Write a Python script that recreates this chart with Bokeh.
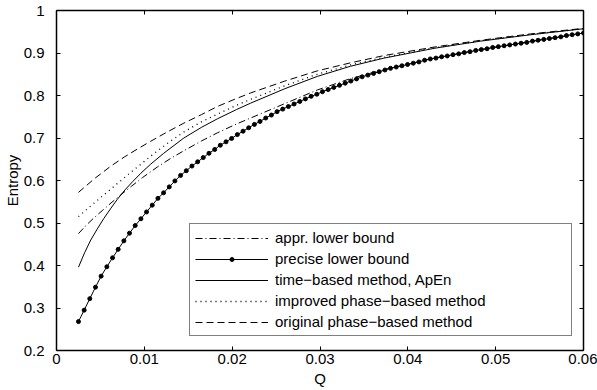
from bokeh.plotting import figure
from bokeh.models import LinearAxis, FixedTicker, Legend, LegendItem, Range1d
from bokeh.embed import file_html
from bokeh.resources import INLINE

# ---------------- data ----------------
q_precise = [0.00250, 0.00315, 0.00379, 0.00444, 0.00508, 0.00573, 0.00638, 0.00702, 0.00767, 0.00831,
             0.00896, 0.00961, 0.01025, 0.01090, 0.01155, 0.01219, 0.01284, 0.01348, 0.01413, 0.01478,
             0.01542, 0.01607, 0.01671, 0.01736, 0.01801, 0.01865, 0.01930, 0.01994, 0.02059, 0.02124,
             0.02188, 0.02253, 0.02317, 0.02382, 0.02447, 0.02511, 0.02576, 0.02640, 0.02705, 0.02770,
             0.02834, 0.02899, 0.02964, 0.03028, 0.03093, 0.03157, 0.03222, 0.03287, 0.03351, 0.03416,
             0.03480, 0.03545, 0.03610, 0.03674, 0.03739, 0.03803, 0.03868, 0.03933, 0.03997, 0.04062,
             0.04126, 0.04191, 0.04256, 0.04320, 0.04385, 0.04449, 0.04514, 0.04579, 0.04643, 0.04708,
             0.04773, 0.04837, 0.04902, 0.04966, 0.05031, 0.05096, 0.05160, 0.05225, 0.05289, 0.05354,
             0.05419, 0.05483, 0.05548, 0.05612, 0.05677, 0.05742, 0.05806, 0.05871, 0.05935, 0.06000]
e_precise = [0.268, 0.295, 0.322, 0.349, 0.375, 0.397, 0.418, 0.438, 0.458, 0.476,
             0.494, 0.510, 0.526, 0.542, 0.558, 0.571, 0.585, 0.599, 0.612, 0.623,
             0.634, 0.644, 0.654, 0.664, 0.673, 0.683, 0.691, 0.699, 0.708, 0.716,
             0.724, 0.732, 0.739, 0.747, 0.754, 0.762, 0.768, 0.774, 0.780, 0.786,
             0.792, 0.798, 0.803, 0.809, 0.814, 0.819, 0.824, 0.829, 0.834, 0.839,
             0.844, 0.848, 0.852, 0.856, 0.860, 0.864, 0.867, 0.870, 0.873, 0.876,
             0.879, 0.883, 0.886, 0.888, 0.891, 0.893, 0.896, 0.898, 0.901, 0.903,
             0.906, 0.908, 0.910, 0.913, 0.915, 0.917, 0.919, 0.921, 0.923, 0.925,
             0.928, 0.930, 0.932, 0.934, 0.936, 0.938, 0.941, 0.943, 0.945, 0.947]

q_appr = [0.0025, 0.0033, 0.0042, 0.0052, 0.0062, 0.0073, 0.0085, 0.0098, 0.0115, 0.0130, 0.0145,
          0.0165, 0.0183, 0.0205, 0.0221, 0.0260, 0.0297, 0.0335, 0.0373, 0.0430, 0.0483, 0.0540, 0.0600]
e_appr = [0.475, 0.493, 0.511, 0.529, 0.547, 0.566, 0.586, 0.607, 0.632, 0.652, 0.670,
          0.693, 0.712, 0.733, 0.747, 0.781, 0.813, 0.840, 0.861, 0.888, 0.908, 0.927, 0.947]

q_time = [0.0025, 0.0032, 0.0039, 0.0047, 0.0054, 0.0062, 0.0069, 0.0078, 0.0087, 0.0096, 0.0107,
          0.0122, 0.0145, 0.0165, 0.0183, 0.0205, 0.0221, 0.0260, 0.0297, 0.0335, 0.0373, 0.0430,
          0.0483, 0.0540, 0.0600]
e_time = [0.396, 0.430, 0.460, 0.488, 0.511, 0.535, 0.555, 0.578, 0.598, 0.617, 0.638,
          0.664, 0.700, 0.725, 0.745, 0.767, 0.782, 0.816, 0.845, 0.869, 0.888, 0.911,
          0.928, 0.943, 0.957]

q_improved = [0.0025, 0.0040, 0.0055, 0.0070, 0.0085, 0.0100, 0.0112, 0.0128, 0.0145, 0.0165, 0.0183,
              0.0205, 0.0221, 0.0260, 0.0297, 0.0335, 0.0373, 0.0430, 0.0483, 0.0540, 0.0600]
e_improved = [0.515, 0.542, 0.568, 0.594, 0.620, 0.645, 0.665, 0.690, 0.714, 0.738, 0.756,
              0.777, 0.791, 0.823, 0.850, 0.872, 0.890, 0.912, 0.929, 0.944, 0.957]

q_original = [0.0025, 0.0043, 0.0062, 0.0077, 0.0092, 0.0107, 0.0125, 0.0145, 0.0165, 0.0183,
              0.0205, 0.0221, 0.0260, 0.0297, 0.0335, 0.0373, 0.0430, 0.0483, 0.0540, 0.0600]
e_original = [0.572, 0.604, 0.634, 0.655, 0.674, 0.692, 0.713, 0.735, 0.755, 0.774,
              0.793, 0.806, 0.834, 0.858, 0.877, 0.894, 0.914, 0.930, 0.945, 0.958]

legend_labels = ["appr. lower bound", "precise lower bound", "time\u2212based method, ApEn",
                 "improved phase\u2212based method", "original phase\u2212based method"]

x_ticks = [0, 0.01, 0.02, 0.03, 0.04, 0.05, 0.06]
x_tick_labels = ["0", "0.01", "0.02", "0.03", "0.04", "0.05", "0.06"]
y_ticks = [0.2, 0.3, 0.4, 0.5, 0.6, 0.7, 0.8, 0.9, 1.0]
y_tick_labels = ["0.2", "0.3", "0.4", "0.5", "0.6", "0.7", "0.8", "0.9", "1"]

FONT = "Liberation Sans"
FS = "15px"

p = figure(width=597, height=390, output_backend="svg", toolbar_location=None,
           x_range=Range1d(0, 0.06), y_range=Range1d(0.2, 1.0),
           x_axis_label="Q", y_axis_label="Entropy",
           min_border_left=56, min_border_right=14, min_border_top=10, min_border_bottom=40)
p.xgrid.visible = False
p.ygrid.visible = False
p.outline_line_color = None
p.background_fill_color = "white"
p.border_fill_color = "white"

r_appr = p.line(q_appr, e_appr, line_color="black", line_width=1, line_dash="7 3 1 3")
r_prec_l = p.line(q_precise, e_precise, line_color="black", line_width=1)
r_prec_m = p.scatter(q_precise, e_precise, marker="circle", size=4, fill_color="black", line_color="black")
r_time = p.line(q_time, e_time, line_color="black", line_width=1)
r_impr = p.line(q_improved, e_improved, line_color="black", line_width=1.3, line_dash="1 4")
r_orig = p.line(q_original, e_original, line_color="black", line_width=1, line_dash="7 4")

xover = dict(zip(x_ticks, x_tick_labels))
yover = dict(zip(y_ticks, y_tick_labels))


def style(ax):
    ax.axis_line_color = "black"
    ax.axis_line_width = 1.5
    ax.major_tick_in = 4
    ax.major_tick_out = 0
    ax.minor_tick_line_color = None
    ax.major_tick_line_color = "black"
    ax.major_label_text_font = FONT
    ax.major_label_text_font_size = FS
    ax.major_label_text_color = "black"
    ax.axis_label_text_font = FONT
    ax.axis_label_text_font_size = FS
    ax.axis_label_text_font_style = "normal"
    ax.axis_label_text_color = "black"


xa = p.xaxis[0]
xa.ticker = FixedTicker(ticks=x_ticks)
xa.major_label_overrides = xover
style(xa)
xa.major_label_standoff = 3
xa.axis_label_standoff = 3

ya = p.yaxis[0]
ya.ticker = FixedTicker(ticks=y_ticks)
ya.major_label_overrides = yover
style(ya)
ya.major_label_standoff = 12
ya.axis_label_standoff = 0

# box axes (ticks only, no labels)
top = LinearAxis(ticker=FixedTicker(ticks=x_ticks))
style(top)
top.major_label_text_color = None
top.major_label_standoff = 0
right = LinearAxis(ticker=FixedTicker(ticks=y_ticks))
style(right)
right.major_label_text_color = None
right.major_label_standoff = 0
p.add_layout(top, "above")
p.add_layout(right, "right")

items = [
    LegendItem(label=legend_labels[0], renderers=[r_appr]),
    LegendItem(label=legend_labels[1], renderers=[r_prec_l, r_prec_m]),
    LegendItem(label=legend_labels[2], renderers=[r_time]),
    LegendItem(label=legend_labels[3], renderers=[r_impr]),
    LegendItem(label=legend_labels[4], renderers=[r_orig]),
]
legend = Legend(items=items, location=(133, 14), margin=0, padding=5, spacing=4,
                glyph_width=73, glyph_height=10, label_height=17, label_width=291,
                label_standoff=7, label_text_font=FONT, label_text_font_size=FS,
                label_text_color="black", border_line_color="black", border_line_width=1,
                background_fill_color="white", background_fill_alpha=1.0)
p.add_layout(legend, "center")

open("out.html", "w").write(file_html(p, INLINE))
